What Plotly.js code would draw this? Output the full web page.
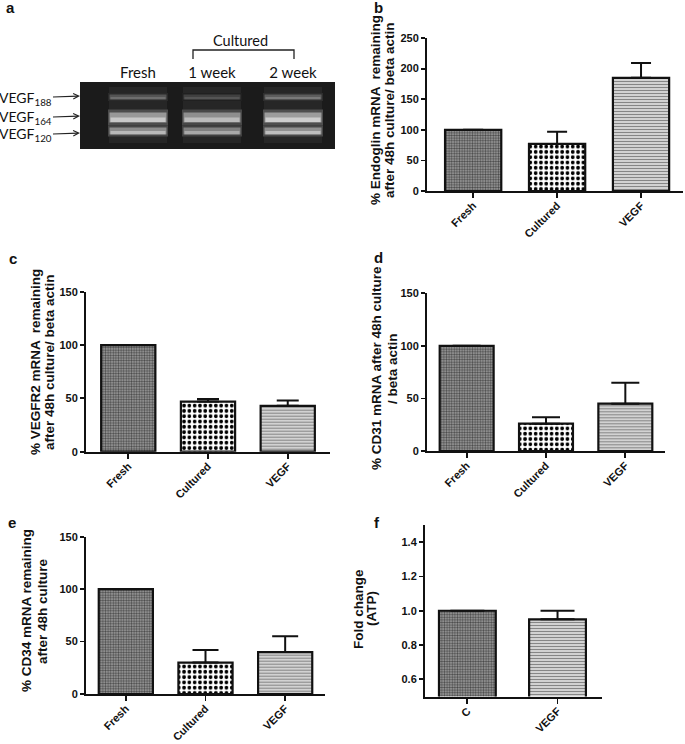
<!DOCTYPE html>
<html><head><meta charset="utf-8">
<script src="https://cdn.plot.ly/plotly-3.0.1.min.js"></script>
<style>html,body{margin:0;padding:0;background:#fff;} #chart{width:685px;height:744px;}</style>
</head><body><div id="chart"></div>
<script>
// ---------- data ----------
// panel a (gel)
const laneNames = ['Fresh', '1 week', '2 week'];
const lanePositions = [58, 132, 213];
const bandLabels = ['VEGF<sub>188</sub>', 'VEGF<sub>164</sub>', 'VEGF<sub>120</sub>'];
const bandPositions = [15, 35.5, 49];
const bandThickness = [5, 10, 7];
const band188Intensity = [105, 80, 115];
const band164Intensity = [190, 178, 195];
const band120Intensity = [175, 160, 180];
const bandIntensities = [band188Intensity, band164Intensity, band120Intensity];

// panels b-e
const mrnaCategories = ['Fresh', 'Cultured', 'VEGF'];
const endoglinValues = [100, 77, 185];
const endoglinErrors = [null, 20, 24];
const vegfr2Values = [100, 47, 43];
const vegfr2Errors = [null, 2.5, 5];
const cd31Values = [100, 26, 45];
const cd31Errors = [null, 6, 20];
const cd34Values = [100, 30, 40];
const cd34Errors = [null, 12, 15];
// panel f
const atpCategories = ['C', 'VEGF'];
const atpValues = [1.0, 0.95];
const atpErrors = [null, 0.05];

const pctTicks150 = [0, 50, 100, 150];
const pctTicks250 = [0, 50, 100, 150, 200, 250];
const atpTicks = [0.6, 0.8, 1.0, 1.2, 1.4];

// ---------- helpers ----------
const W = 685, H = 744;
const px = v => v / W;
const py = v => 1 - v / H;
const FONT = 'Arial, "Liberation Sans", sans-serif';
const GELFONT = 'Lato, "Open Sans", sans-serif';
const INK = '#111';

const styleFresh = {shape: '.', size: 2.6, solidity: 0.5, fg: '#4a4a4a', bg: '#a4a4a4'};
const styleCult = {shape: '.', size: 5.3, solidity: 0.4, fg: '#000', bg: '#fff'};
const styleVegf = {shape: '-', size: 3, solidity: 0.45, fg: '#868686', bg: '#e2e2e2'};

function barTrace(cats, vals, errs, styles, xa, ya, width, capw) {
  return {
    type: 'bar', x: cats, y: vals, xaxis: xa, yaxis: ya, width: width,
    marker: {
      color: '#ffffff',
      line: {color: INK, width: 2.2},
      pattern: {
        shape: styles.map(s => s.shape), size: styles.map(s => s.size),
        solidity: styles.map(s => s.solidity), fgcolor: styles.map(s => s.fg),
        bgcolor: styles.map(s => s.bg), fgopacity: 1, fillmode: 'replace'
      }
    },
    error_y: {type: 'data', symmetric: false, array: errs,
      arrayminus: errs.map(e => e === null ? null : 0),
      color: INK, thickness: 2, width: capw, visible: true},
    hoverinfo: 'skip', showlegend: false
  };
}

const traces = [];
// gel lanes smear
traces.push({type: 'bar', x: lanePositions, base: lanePositions.map(() => 5), y: lanePositions.map(() => 56),
  width: 58, xaxis: 'x', yaxis: 'y', marker: {color: 'rgb(38,38,38)', line: {width: 0}}, hoverinfo: 'skip', showlegend: false});
bandPositions.forEach((pos, b) => {
  const th = bandThickness[b];
  const ints = bandIntensities[b];
  const g = (v, k) => { const c = Math.min(255, Math.round(v * k)); return `rgb(${c},${c},${c})`; };
  // glow
  traces.push({type: 'bar', x: lanePositions, base: lanePositions.map(() => pos - th * 0.8), y: lanePositions.map(() => th * 1.6),
    width: 60, xaxis: 'x', yaxis: 'y',
    marker: {color: ints.map(v => g(v, 0.4)), line: {width: 0}},
    hoverinfo: 'skip', showlegend: false});
  // core
  traces.push({type: 'bar', x: lanePositions, base: lanePositions.map(() => pos - th / 2), y: lanePositions.map(() => th),
    width: 57, xaxis: 'x', yaxis: 'y',
    marker: {color: ints.map(v => g(v, 0.8)), line: {width: 0}},
    hoverinfo: 'skip', showlegend: false});
  // brighter lower edge
  traces.push({type: 'bar', x: lanePositions, base: lanePositions.map(() => pos), y: lanePositions.map(() => th * 0.45),
    width: 55, xaxis: 'x', yaxis: 'y',
    marker: {color: ints.map(v => g(v, 1.05)), line: {width: 0}},
    hoverinfo: 'skip', showlegend: false});
});

const s3 = [styleFresh, styleCult, styleVegf];
traces.push(barTrace(mrnaCategories, endoglinValues, endoglinErrors, s3, 'x2', 'y2', 0.67, 10));
traces.push(barTrace(mrnaCategories, vegfr2Values, vegfr2Errors, s3, 'x3', 'y3', 0.68, 11));
traces.push(barTrace(mrnaCategories, cd31Values, cd31Errors, s3, 'x4', 'y4', 0.68, 14));
traces.push(barTrace(mrnaCategories, cd34Values, cd34Errors, s3, 'x5', 'y5', 0.68, 13));
traces.push(barTrace(atpCategories, atpValues, atpErrors, [styleFresh, styleVegf], 'x6', 'y6', 0.63, 17));

const yTickFont = {family: FONT, size: 11, color: INK, weight: 'bold'};
const xTickFont = {family: FONT, size: 11, color: INK, weight: 'bold'};
function xAx(x0, x1, range, anchor) {
  return {domain: [px(x0), px(x1)], range: range, anchor: anchor, type: 'category',
    showline: true, linecolor: INK, linewidth: 2, ticks: 'outside', ticklen: 5, tickwidth: 1.8, tickcolor: INK,
    tickangle: -45, ticklabelstandoff: -3, tickfont: xTickFont, showgrid: false, zeroline: false, fixedrange: true};
}
function yAx(top, bottom, range, anchor, tickvals, fmt) {
  return {domain: [py(bottom), py(top)], range: range, anchor: anchor,
    showline: true, linecolor: INK, linewidth: 2, ticks: 'outside', ticklen: 4, tickwidth: 1.8, tickcolor: INK,
    tickvals: tickvals, tickformat: fmt || '', tickfont: yTickFont, showgrid: false, zeroline: false, fixedrange: true};
}

const ann = [];
function letter(t, x, y) {
  ann.push({text: t, xref: 'paper', yref: 'paper', x: px(x), y: py(y), xanchor: 'center', yanchor: 'middle',
    showarrow: false, font: {family: FONT, size: 15, color: INK, weight: 'bold'}});
}
function ytitle(lines, xs, y) {
  lines.forEach((t, i) => ann.push({text: t, xref: 'paper', yref: 'paper', x: px(xs[i]), y: py(y), xanchor: 'center', yanchor: 'middle',
    textangle: -90, showarrow: false, font: {family: FONT, size: 13.5, color: INK, weight: 'bold'}}));
}
letter('a', 10, 8); letter('b', 379, 8); letter('c', 13, 258); letter('d', 378, 257); letter('e', 12, 522); letter('f', 377, 522);
ytitle(['% Endoglin mRNA  remaining', 'after 48h culture/ beta actin'], [376, 390], 110);
ytitle(['% VEGFR2 mRNA  remaining', 'after 48h culture/ beta actin'], [35, 49], 362);
ytitle(['% CD31 mRNA after 48h culture', '/ beta actin'], [376, 392], 368);
ytitle(['% CD34 mRNA remaining', 'after 48h culture'], [26, 42], 611);
ytitle(['Fold change', '(ATP)'], [358, 371], 609);

// gel annotations
ann.push({text: 'Cultured', xref: 'paper', yref: 'paper', x: px(240), y: py(41), xanchor: 'center', yanchor: 'middle',
  showarrow: false, font: {family: GELFONT, size: 14.5, color: INK}});
const arrowY = [96, 116, 133];
bandLabels.forEach((t, i) => {
  ann.push({text: t, xref: 'paper', yref: 'paper', x: px(80), y: py(arrowY[i]), axref: 'pixel', ayref: 'pixel',
    ax: -55, ay: 2, showarrow: true, arrowhead: 5, arrowsize: 1, arrowwidth: 1.1, arrowcolor: '#222', standoff: 0,
    font: {family: GELFONT, size: 14, color: INK}});
});

const layout = {
  width: W, height: H, margin: {l: 0, r: 0, t: 0, b: 0},
  paper_bgcolor: '#fff', plot_bgcolor: 'rgba(0,0,0,0)',
  barmode: 'overlay', showlegend: false,
  xaxis: {domain: [px(80), px(335)], range: [0, 255], anchor: 'y', side: 'top', tickvals: lanePositions, ticktext: laneNames,
    ticks: '', showline: false, showgrid: false, zeroline: false, tickfont: {family: GELFONT, size: 15, color: INK}, fixedrange: true},
  yaxis: {domain: [py(149), py(82)], range: [67, 0], visible: false, showgrid: false, zeroline: false, fixedrange: true},
  xaxis2: xAx(427, 683, [-0.55, 2.5], 'y2'),
  yaxis2: yAx(38, 191, [0, 250], 'x2', pctTicks250),
  xaxis3: xAx(86, 330, [-0.53, 2.53], 'y3'),
  yaxis3: yAx(291.7, 451.7, [0, 150], 'x3', pctTicks150),
  xaxis4: xAx(427, 665, [-0.5, 2.5], 'y4'),
  yaxis4: yAx(293.3, 451, [0, 150], 'x4', pctTicks150),
  xaxis5: xAx(86, 325, [-0.5, 2.5], 'y5'),
  yaxis5: yAx(536.7, 694, [0, 150], 'x5', pctTicks150),
  xaxis6: xAx(425, 601.7, [-0.47, 1.49], 'y6'),
  yaxis6: yAx(525, 696.5, [0.5, 1.5], 'x6', atpTicks, '.1f'),
  annotations: ann,
  shapes: [
    {type: 'rect', xref: 'x domain', yref: 'y domain', x0: 0, x1: 1, y0: 0, y1: 1, fillcolor: '#1b1b1b', line: {width: 0}, layer: 'below'},
    {type: 'path', xref: 'paper', yref: 'paper',
      path: `M ${px(193)},${py(59)} V ${py(50)} H ${px(294)} V ${py(59)}`, line: {color: '#222', width: 1.3}}
  ]
};

Plotly.newPlot('chart', traces, layout, {displayModeBar: false, staticPlot: true});
</script>
</body></html>
